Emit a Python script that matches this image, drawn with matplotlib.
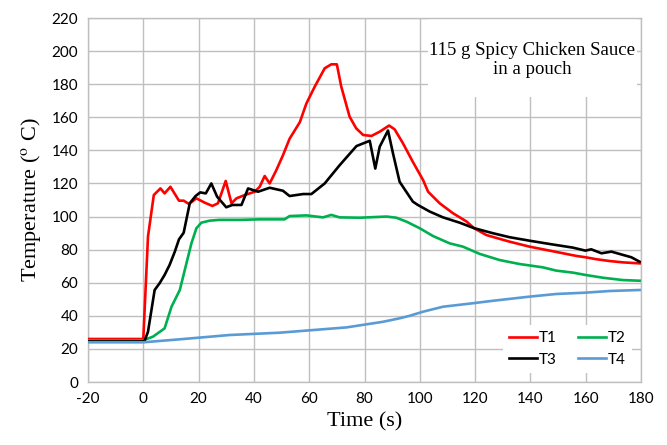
import matplotlib
matplotlib.use("Agg")
import matplotlib.pyplot as plt
from matplotlib.patches import Rectangle

plt.rcParams["axes.unicode_minus"] = False
plt.rcParams["mathtext.fontset"] = "stix"

# ---- data ----
t1_time = [-20, -10, -1, 0, 1.7, 3.8, 6.2, 7.7, 9.8, 12.9, 14.6, 16.5, 19.2, 22.2, 25, 27,
           29.8, 31.9, 33.7, 36.7, 40.3, 42.1, 43.9, 45.7, 48.1, 50.5, 52.9, 56.6, 59, 62,
           65.6, 68, 70, 71.6, 74.6, 77, 79.5, 82.5, 85.5, 88.9, 90.9, 93.9, 97.5, 101.2,
           103, 107.2, 112, 116.9, 119.6, 124.1, 128.3, 132.5, 139.7, 147, 153, 156.6,
           159.9, 163.9, 168.7, 173.5, 179.5]
t1_temp = [26, 26, 26, 26, 88, 113, 117, 114, 118, 109.6, 109.6, 107.6, 111, 108.4, 106.4, 108,
           121.5, 108, 111, 113, 115, 118, 124.5, 120, 128, 137, 147, 157, 168.4, 178.5,
           189.6, 192, 192, 178.5, 160.4, 153.3, 149.3, 148.7, 151.3, 155, 152.7, 144.3, 133, 122,
           115, 108, 102, 97, 93, 88.8, 86.8, 84.8, 81.8, 79.4, 77.4, 76.2,
           75.4, 74.2, 73.1, 72.3, 71.7]

t2_time = [-20, -10, 0, 3.5, 7.7, 10.2, 13.2, 15.6, 17.4, 19.2, 21, 24, 27.6, 35, 42, 51.1,
           52.9, 59, 65, 68, 71, 78.3, 88, 91.5, 95.2, 100, 104.8, 110.8, 115.6, 121.7,
           128.9, 136.1, 144.5, 149.4, 155.4, 159.9, 166.3, 173.5, 179.5]
t2_temp = [25.2, 25.2, 25.2, 27.4, 32.4, 45.5, 55.6, 71.7, 83.8, 92.9, 96.3, 97.5, 98, 98, 98.3, 98.3,
           100.3, 100.7, 99.5, 101, 99.5, 99.3, 100, 99.3, 96.9, 92.9, 88.2, 83.8, 81.8, 77.4,
           73.7, 71.3, 69.3, 67.3, 66.1, 64.7, 63, 61.6, 61.2]

t3_time = [-20, -10, 0, 0.5, 1.7, 4.1, 5.9, 7.7, 9.5, 11.4, 12.9, 14.6, 16.8, 18.9, 20.6, 22.6,
           24.6, 26.7, 30, 32.2, 35.5, 37.9, 41.5, 45.7, 50.5, 52.9, 57.8, 60.8, 65.6, 71,
           77.1, 81.9, 83.9, 85.5, 88.5, 90.3, 92.7, 97.5, 99.3, 103.6, 108.4, 114.4, 119.6,
           126.5, 132.5, 139.7, 147, 155.4, 159.9, 162, 165.7, 169.3, 173.5, 176.5, 179.5]
t3_temp = [24.5, 24.5, 24.5, 25, 30.4, 55.6, 59.7, 64.7, 70.7, 78.8, 86.2, 90.2, 108, 112.4, 114.6, 114,
           120, 112, 105.6, 107, 107, 117, 115, 117.4, 115.6, 112.4, 113.6, 113.6, 120, 131,
           142.6, 145.8, 129, 142.2, 152, 138.2, 121, 109, 107, 103, 99.5, 96.3, 93,
           89.9, 87.5, 85.4, 83.4, 81.2, 79.4, 80.2, 77.8, 78.8, 76.8, 75.4, 72.7]

t4_time = [-20, 0, 13.2, 31.2, 49.3, 61.4, 73.5, 86.7, 92.7, 96.3, 101.2, 108.4, 119.2, 126.5,
           139.7, 149.4, 159.9, 168.7, 179.5]
t4_temp = [24, 24, 25.8, 28.4, 29.8, 31.4, 33, 36.4, 38.5, 40, 42.5, 45.5, 47.6, 49.1,
           51.6, 53.2, 54, 55, 55.6]

x_ticks = list(range(-20, 181, 20))
y_ticks = list(range(0, 221, 20))
series_names = ["T1", "T2", "T3", "T4"]
colors = ["#FF0000", "#00B050", "#000000", "#5B9BD5"]
annotation = "115 g Spicy Chicken Sauce\nin a pouch"

# ---- figure ----
fig = plt.figure(figsize=(6.67, 4.45), dpi=100)
ax = fig.add_axes([88 / 667, 1 - 382 / 445, 553 / 667, 364 / 445])

series = [(t1_time, t1_temp), (t2_time, t2_temp), (t3_time, t3_temp), (t4_time, t4_temp)]
lines = []
for (tx, ty), name, c in zip(series, series_names, colors):
    ln, = ax.plot(tx, ty, color=c, lw=1.9, label=name, zorder=3)
    lines.append(ln)

ax.set_xlim(-20, 180)
ax.set_ylim(0, 220)
ax.set_xticks(x_ticks)
ax.set_yticks(y_ticks)
ax.grid(True, color="#BFBFBF", lw=1.0, zorder=0)
ax.set_axisbelow(True)
for s in ax.spines.values():
    s.set_color("#BFBFBF")
    s.set_linewidth(1.0)
ax.tick_params(length=0, labelsize=11, pad=7)
for lab in ax.get_xticklabels() + ax.get_yticklabels():
    lab.set_fontfamily("Lato")
    lab.set_color("black")

ax.set_xlabel("Time (s)", fontfamily="Liberation Serif", fontsize=16, labelpad=5)
ax.set_ylabel(r"Temperature ($^{\mathrm{o}}$ C)", fontfamily="Liberation Serif", fontsize=16, labelpad=6)

# white text box (axes-fraction placement)
ax.add_patch(Rectangle((0.615, 0.783), 0.378, 0.214, transform=ax.transAxes,
                       facecolor="white", edgecolor="none", zorder=2.5))
ax.text(0.803, 0.885, annotation, transform=ax.transAxes, ha="center", va="center",
        fontfamily="Liberation Serif", fontsize=13.5, linespacing=1.2, zorder=4)

# row-wise order: T1 T2 / T3 T4
leg = ax.legend(handles=[lines[0], lines[2], lines[1], lines[3]], ncol=2, loc="lower right",
                frameon=True, fancybox=False, edgecolor="none", facecolor="white", framealpha=1,
                prop={"family": "Lato", "size": 11}, handlelength=1.8, handletextpad=0.15,
                columnspacing=1.4, borderaxespad=0.6, labelspacing=0.5)
leg.set_zorder(5)

fig.savefig("out.png", dpi=100)
